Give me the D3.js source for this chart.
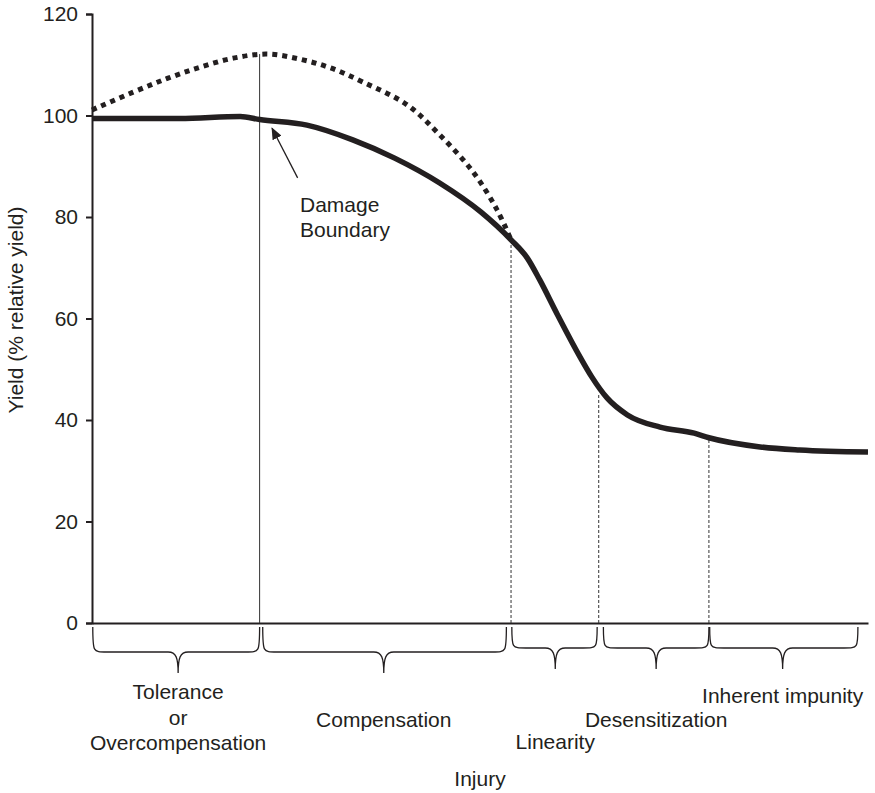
<!DOCTYPE html>
<html>
<head>
<meta charset="utf-8">
<script src="https://cdn.jsdelivr.net/npm/d3@7"></script>
<style>
  html, body { margin: 0; padding: 0; background: #fff; }
  svg { display: block; font-family: "Liberation Sans", Arial, Helvetica, sans-serif; }
</style>
</head>
<body>
<svg id="chart" width="875" height="793"></svg>
<script>
// ---- Data (x = injury, arbitrary 0–100 units; y = % relative yield) ----
const solidX = [0, 11.3, 19.1, 21.6, 27.7, 33.6, 39.0, 44.8, 50.1, 54.0, 56.1, 57.7, 59.9, 62.9, 64.4, 66.4, 69.0, 73.2, 77.6, 79.5, 86.1, 91.2, 100];
const solidY = [99.4, 99.4, 99.8, 99.2, 98.1, 95.2, 91.6, 86.7, 81.0, 75.5, 71.9, 67.6, 61.0, 52.4, 48.5, 44.3, 41.0, 38.6, 37.4, 36.5, 34.7, 34.1, 33.7];

const dottedX = [0, 5.3, 9.7, 13.9, 18.2, 22.6, 26.8, 30.7, 34.9, 40.6, 44.8, 49.1, 52.2, 54.0];
const dottedY = [101.1, 104.6, 107.3, 109.5, 111.3, 112.1, 111.1, 109.4, 106.6, 102.1, 96.2, 88.9, 81.4, 75.5];

const boundaryX   = [21.6, 54.0, 65.3, 79.5];
const boundaryTop = [112.1, 75.5, 45.3, 36.6];
const boundarySolid = [true, false, false, false];

const phaseStart = [0.1, 22.0, 54.1, 65.9, 79.6];
const phaseEnd   = [21.6, 53.4, 65.1, 79.5, 98.7];
const phaseTip   = [11.1, 37.6, 59.7, 72.7, 89.0];
const phaseLabels = [["Tolerance", "or", "Overcompensation"], ["Compensation"], ["Linearity"], ["Desensitization"], ["Inherent impunity"]];

const yTicks = [0, 20, 40, 60, 80, 100, 120];
const xTitle = "Injury";
const yTitle = "Yield (% relative yield)";
const annotationText = ["Damage", "Boundary"];
const arrowFrom = [26.5, 87.7];
const arrowTo = [23.2, 97.5];

// ---- Layout ----
const svg = d3.select("#chart");
const ink = "#231f20";
const fs = 21;
const x = d3.scaleLinear().domain([0, 100]).range([92, 868]);
const y = d3.scaleLinear().domain([0, 120]).range([623, 14]);

// Y axis
const yAxis = d3.axisLeft(y).tickValues(yTicks).tickSize(6).tickPadding(8).tickFormat(d3.format("d"));
const gy = svg.append("g").attr("transform", `translate(${x(0)},0)`).call(yAxis);
gy.select(".domain").attr("stroke", ink).attr("stroke-width", 2);
gy.selectAll(".tick line").attr("stroke", ink).attr("stroke-width", 2);
gy.selectAll(".tick text").attr("font-size", fs).attr("fill", ink).attr("font-family", "Liberation Sans, Arial, sans-serif");

// X axis (no ticks)
const xAxis = d3.axisBottom(x).tickValues([]).tickSizeOuter(0);
const gx = svg.append("g").attr("transform", `translate(0,${y(0)})`).call(xAxis);
gx.select(".domain").attr("stroke", ink).attr("stroke-width", 2);

// Boundary vertical lines
boundaryX.forEach((bx, i) => {
  svg.append("line")
    .attr("x1", x(bx)).attr("x2", x(bx))
    .attr("y1", y(0)).attr("y2", y(boundaryTop[i]))
    .attr("stroke", "#333")
    .attr("stroke-width", 1)
    .attr("stroke-dasharray", boundarySolid[i] ? null : "3,2");
});

// Curves
const dotGen = d3.line().x(d => x(d[0])).y(d => y(d[1])).curve(d3.curveCatmullRom.alpha(0.5));
const solidGen = d3.line().x(d => x(d[0])).y(d => y(d[1])).curve(d3.curveMonotoneX);

svg.append("path")
  .datum(dottedX.map((v, i) => [v, dottedY[i]]))
  .attr("d", dotGen)
  .attr("fill", "none")
  .attr("stroke", ink)
  .attr("stroke-width", 5)
  .attr("stroke-dasharray", "5,5");

svg.append("path")
  .datum(solidX.map((v, i) => [v, solidY[i]]))
  .attr("d", solidGen)
  .attr("fill", "none")
  .attr("stroke", ink)
  .attr("stroke-width", 5.5)
  .attr("stroke-linejoin", "round");

// Arrow annotation
const defs = svg.append("defs");
defs.append("marker")
  .attr("id", "arrowhead")
  .attr("viewBox", "0 0 12 10")
  .attr("refX", 11).attr("refY", 5)
  .attr("markerWidth", 12).attr("markerHeight", 10)
  .attr("markerUnits", "userSpaceOnUse")
  .attr("orient", "auto")
  .append("path").attr("d", "M0,0 L12,5 L0,10 Z").attr("fill", ink);

svg.append("line")
  .attr("x1", x(arrowFrom[0])).attr("y1", y(arrowFrom[1]))
  .attr("x2", x(arrowTo[0])).attr("y2", y(arrowTo[1]))
  .attr("stroke", ink).attr("stroke-width", 1.3)
  .attr("marker-end", "url(#arrowhead)");

const ann = svg.append("text")
  .attr("x", 300).attr("y", 212)
  .attr("font-size", fs).attr("fill", ink);
annotationText.forEach((t, i) => {
  ann.append("tspan").attr("x", 300).attr("dy", i === 0 ? 0 : 25).text(t);
});

// Braces
function bracePath(x0, x1, xc, big) {
  const top = 627, mid = big ? 652 : 648, tip = big ? 673 : 669;
  const r = 14, rt = 10;
  return `M${x0},${top} C${x0},${mid} ${x0},${mid} ${x0 + r},${mid}` +
         ` L${xc - rt},${mid} C${xc - 2},${mid} ${xc},${mid + 6} ${xc},${tip}` +
         ` C${xc},${mid + 6} ${xc + 2},${mid} ${xc + rt},${mid}` +
         ` L${x1 - r},${mid} C${x1},${mid} ${x1},${mid} ${x1},${top}`;
}
phaseStart.forEach((s, i) => {
  const x0 = x(s), x1 = x(phaseEnd[i]), xc = x(phaseTip[i]);
  svg.append("path")
    .attr("d", bracePath(x0, x1, xc, (x1 - x0) > 150))
    .attr("fill", "none").attr("stroke", ink).attr("stroke-width", 1.3);
});

// Phase labels (baselines)
const labelBaseline = [699, 727, 749, 727, 703];
phaseLabels.forEach((lines, i) => {
  const t = svg.append("text")
    .attr("x", x(phaseTip[i])).attr("y", labelBaseline[i])
    .attr("text-anchor", "middle").attr("font-size", fs).attr("fill", ink);
  lines.forEach((ln, j) => {
    t.append("tspan").attr("x", x(phaseTip[i])).attr("dy", j === 0 ? 0 : 25.5).text(ln);
  });
});

// Axis titles
svg.append("text")
  .attr("x", x(50)).attr("y", 786)
  .attr("text-anchor", "middle").attr("font-size", fs).attr("fill", ink)
  .text(xTitle);

svg.append("text")
  .attr("transform", `translate(23,310) rotate(-90)`)
  .attr("text-anchor", "middle").attr("font-size", fs).attr("fill", ink)
  .text(yTitle);
</script>
</body>
</html>
